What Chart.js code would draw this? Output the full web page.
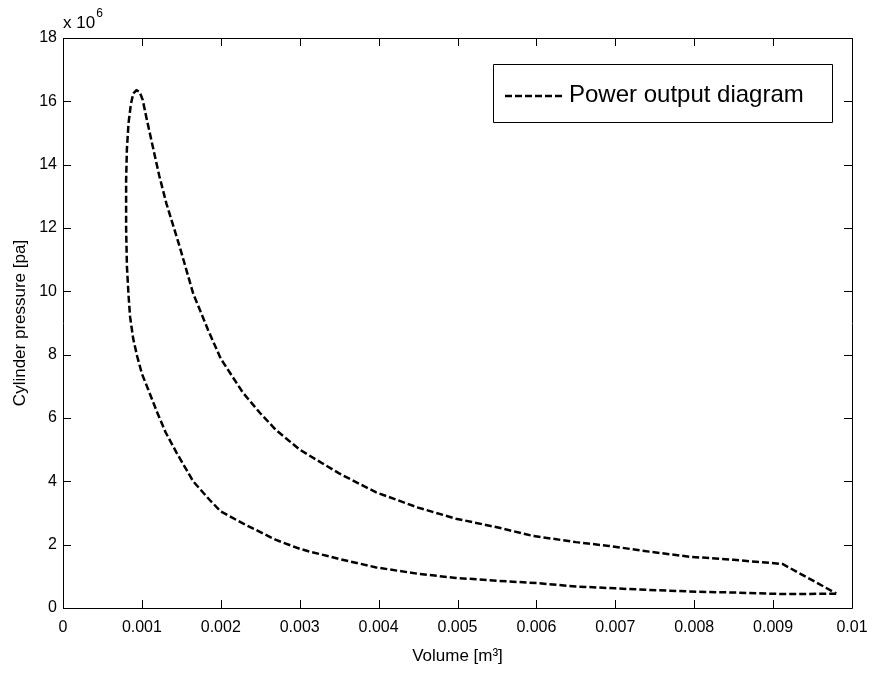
<!DOCTYPE html>
<html>
<head>
<meta charset="utf-8">
<script src="https://cdn.jsdelivr.net/npm/chart.js"></script>
<style>
  html, body { margin: 0; padding: 0; background: #fff; }
  #wrap { width: 872px; height: 674px; }
</style>
</head>
<body>
<div id="wrap"><canvas id="pv"></canvas></div>
<script>
// loop: compression (BDC -> TDC), peak, expansion (TDC -> BDC)
var volume = [
	0.00980, 0.00912, 0.00850, 0.00806, 0.00743, 0.00700, 0.00650, 0.00604, 0.00550, 0.00498,
	0.00450, 0.00397, 0.00350, 0.00313, 0.00300, 0.00270, 0.00228, 0.00200, 0.00186, 0.00165,
	0.00144, 0.00130, 0.00119, 0.00108, 0.00100, 0.00094, 0.00089, 0.00085, 0.00083, 0.00081,
	0.00080, 0.00080, 0.00081, 0.00083, 0.00086, 0.00089, 0.00093,
	0.00097, 0.00101, 0.00106, 0.00114, 0.00122, 0.00131, 0.00148, 0.00165, 0.00184, 0.00200,
	0.00228, 0.00250, 0.00270, 0.00300, 0.00350, 0.00397, 0.00450, 0.00498, 0.00550, 0.00595,
	0.00650, 0.00692, 0.00743, 0.00794, 0.00850, 0.00912, 0.00980
];
var pressure = [
	0.45e6, 0.44e6, 0.49e6, 0.51e6, 0.57e6, 0.62e6, 0.68e6, 0.78e6, 0.86e6, 0.95e6,
	1.08e6, 1.28e6, 1.55e6, 1.78e6, 1.87e6, 2.15e6, 2.67e6, 3.05e6, 3.41e6, 4.00e6,
	4.90e6, 5.55e6, 6.20e6, 6.90e6, 7.40e6, 7.95e6, 8.50e6, 9.20e6, 9.90e6, 10.8e6,
	12.0e6, 13.5e6, 14.5e6, 15.3e6, 15.9e6, 16.25e6, 16.35e6,
	16.3e6, 16.05e6, 15.45e6, 14.55e6, 13.65e6, 12.78e6, 11.40e6, 9.93e6, 8.77e6, 7.87e6,
	6.80e6, 6.15e6, 5.62e6, 5.00e6, 4.25e6, 3.65e6, 3.17e6, 2.82e6, 2.55e6, 2.28e6,
	2.08e6, 1.96e6, 1.78e6, 1.62e6, 1.52e6, 1.39e6, 0.46e6
];
var xTicks = [0, 0.001, 0.002, 0.003, 0.004, 0.005, 0.006, 0.007, 0.008, 0.009, 0.01];
var yTicks = [0, 2e6, 4e6, 6e6, 8e6, 10e6, 12e6, 14e6, 16e6, 18e6];
var seriesName = 'Power output diagram';

var points = [];
for (var i in volume) {
	points.push({x: volume[i], y: pressure[i]});
}

var fontFam = '"Liberation Sans", Arial, sans-serif';

// matlab style box, inward ticks, x10^6 label and legend
var matlabAxes = {
	id: 'matlabAxes',
	afterDraw: function(chart) {
		var ctx = chart.ctx;
		var a = chart.chartArea;
		var xs = chart.scales.x, ys = chart.scales.y;
		ctx.save();
		ctx.strokeStyle = '#000';
		ctx.lineWidth = 1;
		ctx.beginPath();
		ctx.rect(a.left + 0.5, a.top + 0.5, a.right - a.left, a.bottom - a.top);
		ctx.stroke();
		ctx.beginPath();
		xTicks.forEach(function(v) {
			var px = Math.round(xs.getPixelForValue(v)) + 0.5;
			ctx.moveTo(px, a.bottom); ctx.lineTo(px, a.bottom - 8);
			ctx.moveTo(px, a.top); ctx.lineTo(px, a.top + 8);
		});
		yTicks.forEach(function(v) {
			var py = Math.round(ys.getPixelForValue(v)) + 0.5;
			ctx.moveTo(a.left, py); ctx.lineTo(a.left + 8, py);
			ctx.moveTo(a.right, py); ctx.lineTo(a.right - 8, py);
		});
		ctx.stroke();

		// exponent label
		ctx.fillStyle = '#000';
		ctx.textBaseline = 'alphabetic';
		ctx.textAlign = 'left';
		ctx.font = '17px ' + fontFam;
		ctx.fillText('x 10', a.left, 28);
		var w = ctx.measureText('x 10').width;
		ctx.font = '12px ' + fontFam;
		ctx.fillText('6', a.left + w + 1, 17);

		// legend box
		var bx = 493, by = 64, bw = 339, bh = 58;
		ctx.fillStyle = '#fff';
		ctx.fillRect(bx, by, bw, bh);
		ctx.strokeStyle = '#000';
		ctx.beginPath();
		ctx.rect(bx + 0.5, by + 0.5, bw, bh);
		ctx.stroke();
		ctx.lineWidth = 2.5;
		ctx.setLineDash([7, 3]);
		ctx.beginPath();
		ctx.moveTo(505, 96); ctx.lineTo(562, 96);
		ctx.stroke();
		ctx.setLineDash([]);
		ctx.fillStyle = '#000';
		ctx.font = '24px ' + fontFam;
		ctx.textBaseline = 'middle';
		ctx.fillText(seriesName, 569, 95);
		ctx.restore();
	}
};

var ctx = document.getElementById('pv');

var pvChart = new Chart(ctx, {
	type: 'scatter',
	data: {
		datasets: [{
			label: seriesName,
			data: points,
			showLine: true,
			borderColor: '#000',
			borderWidth: 2.5,
			borderDash: [7, 3],
			pointRadius: 0,
			tension: 0,
			fill: false
		}]
	},
	options: {
		responsive: true,
		maintainAspectRatio: false,
		animation: false,
		layout: { padding: { top: 38, right: 20, left: 0, bottom: 0 } },
		plugins: {
			legend: { display: false },
			tooltip: { enabled: false }
		},
		scales: {
			x: {
				type: 'linear',
				min: 0,
				max: 0.01,
				afterFit: function(scale) {
					scale.height = 66;
					scale.paddingLeft = 0;
					scale.paddingRight = 0;
				},
				afterBuildTicks: function(scale) {
					scale.ticks = xTicks.map(function(v) { return {value: v}; });
				},
				ticks: {
					color: '#000',
					padding: 10,
					maxRotation: 0,
					font: { family: fontFam, size: 16 },
					callback: function(v) { return String(Number(v.toFixed(3))); }
				},
				grid: { drawOnChartArea: false, drawTicks: false },
				border: { display: false },
				title: {
					display: true,
					text: 'Volume [m³]',
					color: '#000',
					font: { family: fontFam, size: 17 },
					padding: { top: 0, bottom: 7 }
				}
			},
			y: {
				type: 'linear',
				min: 0,
				max: 18e6,
				afterFit: function(scale) {
					scale.width = 63;
					scale.paddingTop = 0;
					scale.paddingBottom = 0;
				},
				afterBuildTicks: function(scale) {
					scale.ticks = yTicks.map(function(v) { return {value: v}; });
				},
				ticks: {
					color: '#000',
					padding: 6,
					font: { family: fontFam, size: 16 },
					callback: function(v) { return String(Math.round(v / 1e6)); }
				},
				grid: { drawOnChartArea: false, drawTicks: false },
				border: { display: false },
				title: {
					display: true,
					text: 'Cylinder pressure [pa]',
					color: '#000',
					font: { family: fontFam, size: 17 },
					padding: { top: 10, bottom: 0 }
				}
			}
		}
	},
	plugins: [matlabAxes]
});
</script>
</body>
</html>
